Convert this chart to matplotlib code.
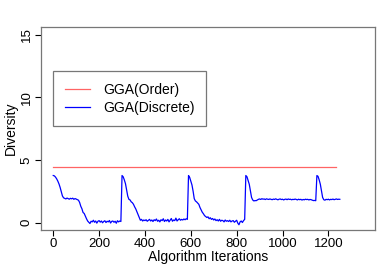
import matplotlib
matplotlib.use("Agg")
import matplotlib.pyplot as plt
import numpy as np

plt.rcParams['font.family'] = ['Liberation Sans', 'DejaVu Sans']

# GGA(Order): flat line
order_iters = [0, 1235]
order_vals = [4.45, 4.45]

# GGA(Discrete): every 5 iterations
disc_step = 5
disc_vals = [
    3.75, 3.72, 3.62, 3.48, 3.30, 3.08, 2.80, 2.45, 2.12, 1.97,
    1.92, 1.88, 1.95, 1.90, 1.86, 1.93, 1.89, 1.94, 1.85, 1.91,
    1.87, 1.82, 1.78, 1.60, 1.30, 1.10, 0.80, 0.72, 0.50, 0.30,
    0.12, 0.02, -0.08, 0.10, 0.05, 0.18, 0.02, 0.12, -0.05, 0.10,
    0.15, 0.03, 0.12, -0.02, 0.08, 0.14, 0.00, 0.10, 0.05, 0.16,
    -0.04, 0.09, 0.12, 0.02, 0.10, -0.06, 0.14, 0.05, 0.12, 0.08,
    3.75, 3.65, 3.40, 3.10, 2.60, 2.10, 1.85, 1.80, 1.65, 1.58,
    1.45, 1.25, 1.08, 0.85, 0.62, 0.38, 0.18, 0.25, 0.12, 0.20,
    0.15, 0.22, 0.10, 0.18, 0.25, 0.12, 0.20, 0.08, 0.22, 0.15,
    0.28, 0.10, 0.18, 0.05, 0.22, 0.15, 0.30, 0.08, 0.20, 0.12,
    0.25, 0.05, 0.18, 0.32, 0.10, 0.20, 0.15, 0.35, 0.12, 0.22,
    0.30, 0.18, 0.25, 0.20, 0.28, 0.22, 0.30, 0.25, 3.75, 3.60,
    3.30, 3.00, 2.50, 1.90, 1.72, 1.65, 1.55, 1.45, 1.20, 1.00,
    0.82, 0.70, 0.55, 0.48, 0.40, 0.45, 0.30, 0.38, 0.25, 0.32,
    0.20, 0.28, 0.15, 0.22, 0.12, 0.25, 0.10, 0.18, 0.15, 0.05,
    0.20, 0.10, 0.15, 0.08, 0.18, 0.05, 0.12, 0.15, 0.02, 0.10,
    0.18, -0.05, -0.18, 0.05, 0.12, 0.00, 0.15, 0.25, 3.75, 3.65,
    3.35, 3.05, 2.50, 2.00, 1.80, 1.72, 1.75, 1.74, 1.80, 1.85,
    1.88, 1.84, 1.90, 1.86, 1.88, 1.83, 1.89, 1.86, 1.84, 1.88,
    1.85, 1.82, 1.87, 1.84, 1.89, 1.85, 1.81, 1.86, 1.88, 1.83,
    1.86, 1.80, 1.85, 1.87, 1.82, 1.88, 1.84, 1.86, 1.81, 1.85,
    1.83, 1.87, 1.84, 1.80, 1.86, 1.82, 1.85, 1.79, 1.84, 1.81,
    1.86, 1.83, 1.85, 1.80, 1.84, 1.82, 1.78, 1.75, 1.76, 1.74,
    3.75, 3.68, 3.40, 3.05, 2.50, 2.00, 1.82, 1.78, 1.85, 1.82,
    1.86, 1.80, 1.85, 1.83, 1.87, 1.82, 1.85, 1.88, 1.84, 1.86,
    1.85,
]
disc_iters = np.arange(len(disc_vals)) * disc_step

x_ticks = [0, 200, 400, 600, 800, 1000, 1200]
y_ticks = [0, 5, 10, 15]

fig = plt.figure(figsize=(3.82, 2.65), dpi=100)
ax = fig.add_axes([0.107, 0.132, 0.875, 0.766])

ax.plot(order_iters, order_vals, color='#ff6464', lw=0.9, label='GGA(Order)')
ax.plot(disc_iters, disc_vals, color='#0000ff', lw=0.9, label='GGA(Discrete)')

ax.set_xlim(-54, 1404)
ax.set_ylim(-0.6, 15.6)
ax.set_xticks(x_ticks)
ax.set_yticks(y_ticks)
ax.set_yticklabels([str(v) for v in y_ticks], rotation=90, va='center')
ax.tick_params(labelsize=9.5, length=4, width=0.8, pad=2)

for s in ax.spines.values():
    s.set_color('#777777')
    s.set_linewidth(0.9)

ax.set_xlabel('Algorithm Iterations', fontsize=10, labelpad=0)
ax.set_ylabel('Diversity', fontsize=10, labelpad=2)

leg = ax.legend(loc='upper left', bbox_to_anchor=(0.036, 0.782), borderaxespad=0,
                fontsize=10, fancybox=False, framealpha=1, edgecolor='#777777',
                handlelength=1.8, handletextpad=0.95, borderpad=0.85,
                labelspacing=0.25)
leg.get_frame().set_linewidth(0.9)

fig.savefig('out.png', dpi=100)
